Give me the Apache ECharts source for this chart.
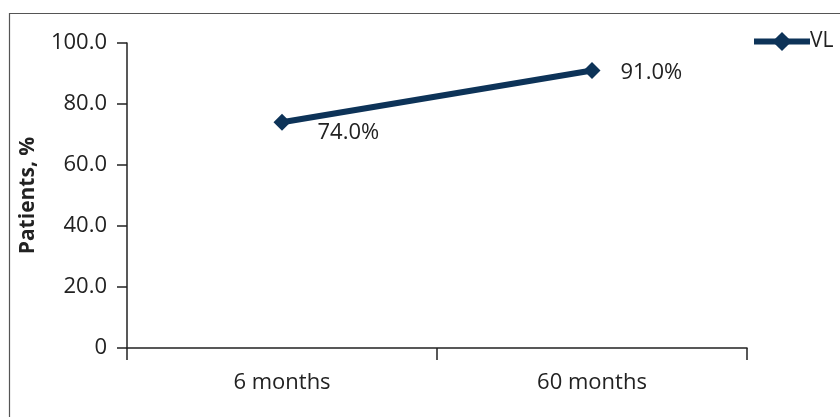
<!DOCTYPE html>
<html>
<head>
<meta charset="utf-8">
<script src="https://cdn.jsdelivr.net/npm/echarts@6/dist/echarts.min.js"></script>
<style>html,body{margin:0;padding:0;background:#fff;}#c{width:840px;height:417px;}</style>
</head>
<body>
<div id="c"></div>
<script>
const categories = ['6 months', '60 months'];
const seriesName = 'VL';
const values = [74.0, 91.0];
const yTicks = [0, 20, 40, 60, 80, 100];

const labelOffsets = [[22, 10], [15, 2]];
const FONT = 'Open Sans';
const chart = echarts.init(document.getElementById('c'));
chart.setOption({
  animation: false,
  textStyle: { fontFamily: FONT },
  graphic: [{
    type: 'rect', left: 7, top: 11,
    shape: { width: 1000, height: 600 },
    style: { fill: 'none', stroke: '#555', lineWidth: 1.2 },
    silent: true
  }],
  legend: {
    left: 746, top: 26,
    itemWidth: 56, itemHeight: 24,
    itemGap: 4,
    lineStyle: { width: 6, color: '#0d3358' },
    itemStyle: { color: '#0d3358' },
    textStyle: { fontFamily: FONT, fontSize: 21, color: '#222', padding: [0, 0, 0, -5] },
    data: [seriesName]
  },
  grid: { left: 127, right: 93, top: 43, bottom: 69, containLabel: false },
  xAxis: {
    type: 'category', data: categories, boundaryGap: true,
    axisLine: { lineStyle: { color: '#222', width: 1.5 } },
    axisTick: { show: true, length: 12, alignWithLabel: false, lineStyle: { color: '#222', width: 1.5 } },
    axisLabel: { fontFamily: FONT, fontSize: 22, color: '#222', margin: 24 },
    splitLine: { show: false }
  },
  yAxis: {
    type: 'value', min: yTicks[0], max: yTicks[yTicks.length - 1], interval: 20,
    name: 'Patients, %', nameLocation: 'middle', nameGap: 88,
    nameTextStyle: { fontFamily: FONT, fontSize: 21, fontWeight: 'bold', color: '#222' },
    axisLine: { show: true, lineStyle: { color: '#222', width: 1.5 } },
    axisTick: { show: true, length: 10, inside: false, lineStyle: { color: '#222', width: 1.5 } },
    axisLabel: {
      fontFamily: FONT, fontSize: 22, color: '#222', margin: 20,
      formatter: v => v === 0 ? '0' : v.toFixed(1)
    },
    splitLine: { show: false }
  },
  series: [{
    name: seriesName, type: 'line',
    data: values.map((v, i) => ({
      value: v,
      label: { offset: labelOffsets[i] }
    })),
    symbol: 'diamond', symbolSize: 17,
    lineStyle: { color: '#0d3358', width: 6 },
    itemStyle: { color: '#0d3358' },
    label: {
      show: true, position: 'right',
      fontFamily: FONT, fontSize: 22, color: '#222',
      formatter: p => p.value.toFixed(1) + '%'
    }
  }]
});
</script>
</body>
</html>
